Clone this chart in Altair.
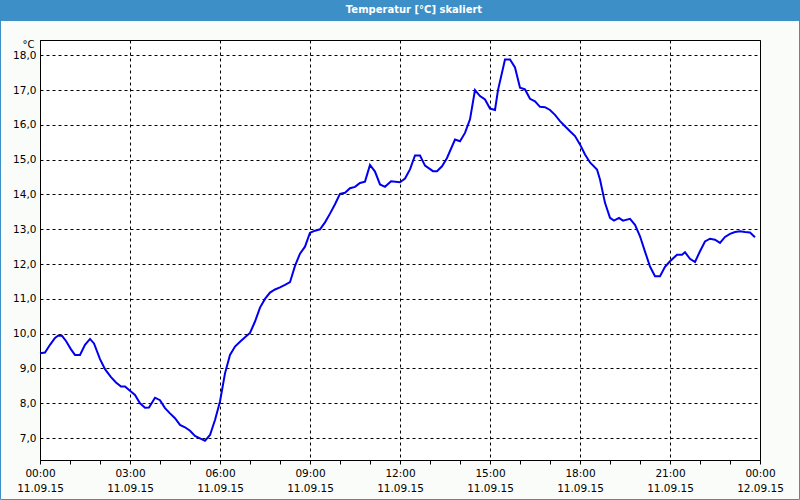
import altair as alt
import pandas as pd

# minutes after midnight (11.09.15) and temperature in °C
minutes = [0, 10, 20, 30, 36, 44, 52, 62, 70, 80, 90, 100, 108, 120, 130, 142, 152, 162, 170,
           180, 190, 200, 210, 218, 230, 240, 250, 260, 270, 280, 290, 300, 310, 320, 330,
           340, 350, 360, 370, 380, 390, 400, 410, 420, 430, 440, 450, 460, 470, 480, 490,
           500, 510, 520, 530, 540, 550, 560, 570, 580, 590, 600, 610, 620, 630, 640, 650,
           660, 670, 680, 690, 702, 720, 730, 740, 750, 760, 770, 786, 794, 804, 814, 830,
           840, 850, 860, 870, 880, 890, 900, 910, 916, 930, 940, 950, 960, 970, 980, 990,
           1000, 1010, 1020, 1030, 1040, 1050, 1060, 1070, 1080, 1090, 1100, 1114, 1120,
           1130, 1140, 1148, 1158, 1166, 1180, 1190, 1200, 1210, 1220, 1230, 1240, 1250,
           1260, 1274, 1284, 1290, 1300, 1310, 1320, 1330, 1340, 1350, 1360, 1370, 1380,
           1390, 1400, 1410, 1420, 1430]
temps = [9.44, 9.46, 9.68, 9.88, 9.94, 9.94, 9.79, 9.55, 9.39, 9.39, 9.68, 9.85, 9.72, 9.27,
         8.98, 8.75, 8.60, 8.48, 8.48, 8.36, 8.24, 8.00, 7.87, 7.88, 8.16, 8.09, 7.86, 7.71,
         7.57, 7.38, 7.31, 7.21, 7.06, 6.99, 6.92, 7.09, 7.52, 8.05, 8.86, 9.39, 9.63, 9.77,
         9.90, 10.02, 10.35, 10.75, 11.00, 11.18, 11.27, 11.33, 11.40, 11.48, 11.95, 12.30,
         12.50, 12.90, 12.96, 13.00, 13.20, 13.45, 13.72, 14.02, 14.05, 14.18, 14.22, 14.33,
         14.37, 14.85, 14.66, 14.29, 14.22, 14.38, 14.35, 14.46, 14.72, 15.12, 15.12, 14.83,
         14.67, 14.67, 14.81, 15.05, 15.58, 15.53, 15.77, 16.16, 17.00, 16.83, 16.73, 16.47,
         16.43, 17.00, 17.88, 17.88, 17.65, 17.07, 17.02, 16.75, 16.68, 16.52, 16.51, 16.43,
         16.29, 16.11, 15.96, 15.82, 15.68, 15.44, 15.15, 14.92, 14.72, 14.43, 13.76, 13.33,
         13.25, 13.33, 13.25, 13.30, 13.13, 12.80, 12.36, 11.93, 11.65, 11.65, 11.92, 12.08,
         12.27, 12.27, 12.34, 12.15, 12.06, 12.37, 12.65, 12.73, 12.70, 12.61, 12.78, 12.87,
         12.92, 12.94, 12.92, 12.91, 12.77]
y_ticks = [7, 8, 9, 10, 11, 12, 13, 14, 15, 16, 17, 18]
title_text = "Temperatur [°C] skaliert"

start = pd.Timestamp("2015-09-11 00:00:00")
df = pd.DataFrame({
    "zeit": [start + pd.Timedelta(minutes=m) for m in minutes],
    "temp": temps,
})

hour_ticks = [alt.DateTime(year=2015, month=9, date=11, hours=h) for h in range(24)] + \
             [alt.DateTime(year=2015, month=9, date=12, hours=0)]

FONT = "DejaVu Sans"
BLUE = "#3d8fc7"

x_enc = alt.X(
    "zeit:T",
    scale=alt.Scale(domain=[alt.DateTime(year=2015, month=9, date=11, hours=0),
                            alt.DateTime(year=2015, month=9, date=12, hours=0)], nice=False),
    axis=alt.Axis(
        values=hour_ticks,
        title=None,
        grid=True,
        gridColor="black",
        gridDash=[3, 3],
        gridWidth=1,
        gridOpacity={"condition": {"test": "hours(datum.value) % 3 == 0", "value": 1}, "value": 0},
        ticks=True,
        tickSize=4,
        tickColor="black",
        domainColor="black",
        labelExpr="hours(datum.value) % 3 == 0 ? [timeFormat(datum.value, '%H:%M'), timeFormat(datum.value, '%d.%m.%y')] : ''",
        labelFont=FONT,
        labelFontSize=10.5,
        labelColor="black",
        labelLineHeight=15,
        labelPadding=4,
        labelOverlap=False,
        labelFlush=False,
        labelBound=False,
    ),
)

y_enc = alt.Y(
    "temp:Q",
    scale=alt.Scale(domain=[6.37, 18.44], nice=False, zero=False),
    axis=alt.Axis(
        values=y_ticks,
        labelExpr="replace(format(datum.value, '.1f'), '.', ',')",
        grid=True,
        gridColor="black",
        gridDash=[3, 3],
        gridWidth=1,
        ticks=False,
        domainColor="black",
        labelFont=FONT,
        labelFontSize=10.5,
        labelColor="black",
        labelPadding=4,
        title="°C",
        titleAngle=0,
        titleX=-6,
        titleY=4,
        titleAlign="right",
        titleBaseline="middle",
        titleFont=FONT,
        titleFontSize=10,
        titleFontWeight="normal",
        titleColor="black",
    ),
)

one = pd.DataFrame({"k": [0]})

title_bar = alt.Chart(one).mark_rect(color=BLUE).encode(
    x=alt.value(-40), x2=alt.value(760), y=alt.value(-40), y2=alt.value(-19)
)
title_txt = alt.Chart(one).mark_text(
    text=title_text, font=FONT, fontSize=10, fontWeight="bold", color="white",
    align="center", baseline="middle"
).encode(x=alt.value(374), y=alt.value(-30))
frame = alt.Chart(one).mark_rect(fillOpacity=0, stroke=BLUE, strokeWidth=1).encode(
    x=alt.value(-39.5), x2=alt.value(759.5), y=alt.value(-39.5), y2=alt.value(459.5)
)

line = alt.Chart(df).mark_line(color="#0000ee", strokeWidth=2, interpolate="linear").encode(
    x=x_enc, y=y_enc
)

chart = alt.layer(line, title_bar, title_txt, frame).properties(
    width=720,
    height=420,
    autosize="none",
    padding={"left": 40, "top": 40, "right": 40, "bottom": 40},
    background="#f9fcf9",
).configure_view(fill="white", stroke="black", strokeWidth=1)

chart.save("out.html", embed_options={"renderer": "svg", "actions": False})
